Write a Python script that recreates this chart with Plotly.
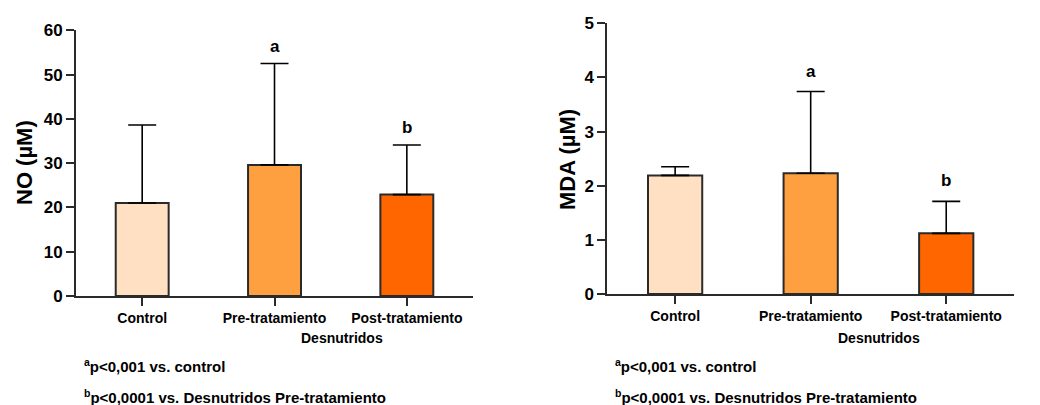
import plotly.graph_objects as go

# Group labels (x axis categories)
groups = ["Control", "Pre-tratamiento", "Post-tratamiento"]

# Nitric oxide (µM): mean and upper SD
no_mean = [21.0, 29.6, 22.9]
no_sd = [17.6, 22.9, 11.2]

# Malondialdehyde (µM): mean and upper SD
mda_mean = [2.19, 2.23, 1.12]
mda_sd = [0.16, 1.51, 0.59]

# Significance letters above each bar
sig_letters = ["", "a", "b"]

bar_colors = ["#FFE0C2", "#FFA040", "#FF6600"]
FONT = "Liberation Sans, Arial, sans-serif"
INK = "#2a2a2a"


def bold_font(size):
    return dict(family=FONT, size=size, color="black", weight="bold")


fig = go.Figure()


def add_panel(means, sds, xref, yref, letter_gap):
    fig.add_trace(go.Bar(
        x=list(range(len(groups))), y=means, width=0.4,
        marker=dict(color=bar_colors, line=dict(color=INK, width=2)),
        error_y=dict(type="data", array=sds, symmetric=False,
                     arrayminus=[0] * len(sds), color="black",
                     thickness=1.6, width=14),
        xaxis=xref, yaxis=yref, showlegend=False,
    ))
    for i, (m, s, lab) in enumerate(zip(means, sds, sig_letters)):
        if lab:
            fig.add_annotation(
                x=i, y=m + s, xref=xref, yref=yref, text=lab,
                showarrow=False, yanchor="bottom", yshift=letter_gap,
                font=bold_font(17),
            )


add_panel(no_mean, no_sd, "x", "y", 6)
add_panel(mda_mean, mda_sd, "x2", "y2", 9)

xcommon = dict(
    range=[-0.5, 2.5], tickmode="array", tickvals=[0, 1, 2], ticktext=groups,
    showline=True, linecolor=INK, linewidth=2, ticks="outside", ticklen=8,
    tickwidth=2, tickcolor=INK, showgrid=False, zeroline=False,
    automargin=False, tickfont=bold_font(14),
)
ycommon = dict(
    showline=True, linecolor=INK, linewidth=2, ticks="outside", ticklen=8,
    tickwidth=2, tickcolor=INK, showgrid=False, zeroline=False,
    automargin=False, tickfont=bold_font(17),
)

fig.update_layout(
    width=1040, height=405,
    margin=dict(l=0, r=0, t=0, b=0, autoexpand=False),
    paper_bgcolor="white", plot_bgcolor="white",
    xaxis=dict(domain=[0.0731, 0.4548], anchor="y", **xcommon),
    yaxis=dict(domain=[0.2691, 0.9252], anchor="x", range=[0, 60], dtick=10,
               **ycommon),
    xaxis2=dict(domain=[0.5840, 0.975], anchor="y2", **xcommon),
    yaxis2=dict(domain=[0.2741, 0.9425], anchor="x2", range=[0, 5], dtick=1,
                **ycommon),
)

# Rotated y-axis titles
for tx, ty, ttl in [(24, 163, "NO (µM)"), (567, 160, "MDA (µM)")]:
    fig.add_annotation(x=tx / 1040, y=1 - ty / 405, xref="paper", yref="paper",
                       text=ttl, textangle=-90, showarrow=False,
                       xanchor="center", yanchor="middle", font=bold_font(22))

# Group caption and footnotes under each panel
for cx, fx in [(342, 82), (879, 613)]:
    fig.add_annotation(x=cx / 1040, y=1 - 338 / 405, xref="paper", yref="paper",
                       text="Desnutridos", showarrow=False,
                       xanchor="center", yanchor="middle", font=bold_font(14))
    fig.add_annotation(x=fx / 1040, y=1 - 365 / 405, xref="paper", yref="paper",
                       text="<sup>a</sup>p<0,001 vs. control",
                       showarrow=False, xanchor="left", yanchor="middle",
                       font=bold_font(15))
    fig.add_annotation(x=fx / 1040, y=1 - 396 / 405, xref="paper", yref="paper",
                       text="<sup>b</sup>p<0,0001 vs. Desnutridos Pre-tratamiento",
                       showarrow=False, xanchor="left", yanchor="middle",
                       font=bold_font(15))

fig.write_html("out.html")
